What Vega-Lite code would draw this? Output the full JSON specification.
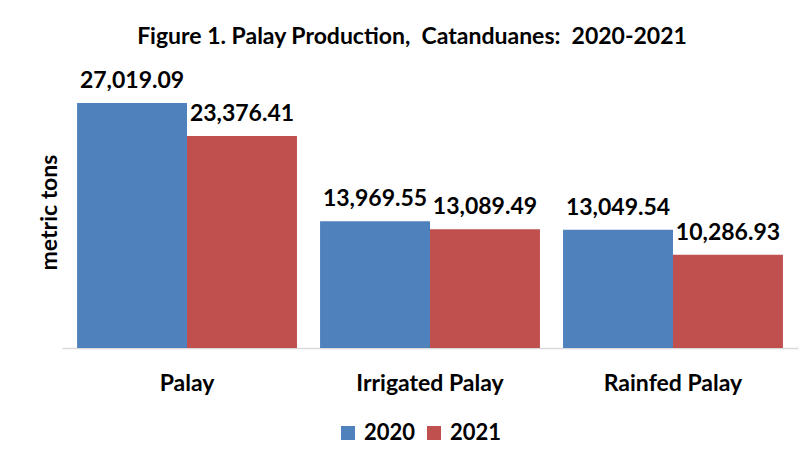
{
  "$schema": "https://vega.github.io/schema/vega-lite/v6.json",
  "autosize": {"type": "none"},
  "padding": {"left": 62, "top": 76, "right": 5, "bottom": 108},
  "width": 736,
  "height": 272,
  "background": "white",
  "title": {
    "text": "Figure 1. Palay Production,\u00a0 Catanduanes:\u00a0 2020-2021",
    "font": "Lato",
    "fontSize": 23,
    "fontWeight": "bold",
    "color": "#000000",
    "anchor": "middle",
    "dx": -18,
    "baseline": "alphabetic",
    "offset": 3
  },
  "data": {
    "values": [
      {"category": "Palay", "year": "2020", "value": 27019.09},
      {"category": "Palay", "year": "2021", "value": 23376.41},
      {"category": "Irrigated Palay", "year": "2020", "value": 13969.55},
      {"category": "Irrigated Palay", "year": "2021", "value": 13089.49},
      {"category": "Rainfed Palay", "year": "2020", "value": 13049.54},
      {"category": "Rainfed Palay", "year": "2021", "value": 10286.93}
    ]
  },
  "encoding": {
    "x": {
      "field": "category",
      "type": "nominal",
      "sort": ["Palay", "Irrigated Palay", "Rainfed Palay"],
      "scale": {"paddingInner": 0.095, "paddingOuter": 0.062},
      "axis": {
        "title": null,
        "labelAngle": 0,
        "ticks": false,
        "domain": true,
        "domainColor": "#d9d9d9",
        "domainWidth": 1.5,
        "labelFont": "Lato",
        "labelFontSize": 23,
        "labelFontWeight": "bold",
        "labelColor": "#000000",
        "labelBaseline": "alphabetic",
        "labelPadding": 42
      }
    },
    "xOffset": {
      "field": "year",
      "type": "nominal",
      "scale": {"paddingInner": 0, "paddingOuter": 0}
    },
    "y": {
      "field": "value",
      "type": "quantitative",
      "scale": {"domain": [0, 30000], "nice": false},
      "axis": {
        "title": "metric tons",
        "titleFont": "Lato",
        "titleFontSize": 23,
        "titleFontWeight": "bold",
        "titleColor": "#000000",
        "titlePadding": 1,
        "labels": false,
        "ticks": false,
        "domain": false,
        "grid": false
      }
    }
  },
  "layer": [
    {
      "mark": {"type": "bar"},
      "encoding": {
        "color": {
          "field": "year",
          "type": "nominal",
          "scale": {"domain": ["2020", "2021"], "range": ["#4F81BD", "#C0504D"]},
          "legend": {
            "title": null,
            "orient": "none",
            "direction": "horizontal",
            "legendX": 275,
            "legendY": 346,
            "symbolType": "square",
            "symbolSize": 196,
            "symbolStrokeWidth": 0,
            "labelFont": "Lato",
            "labelFontSize": 22,
            "labelFontWeight": "bold",
            "labelColor": "#000000",
            "labelOffset": 5,
            "columnPadding": 7
          }
        }
      }
    },
    {
      "mark": {
        "type": "text",
        "font": "Lato",
        "fontSize": 23,
        "fontWeight": "bold",
        "color": "#000000",
        "baseline": "alphabetic",
        "align": "center",
        "dy": -15
      },
      "encoding": {
        "text": {"field": "value", "type": "quantitative", "format": ",.2f"}
      }
    }
  ],
  "config": {
    "view": {"stroke": null}
  }
}
